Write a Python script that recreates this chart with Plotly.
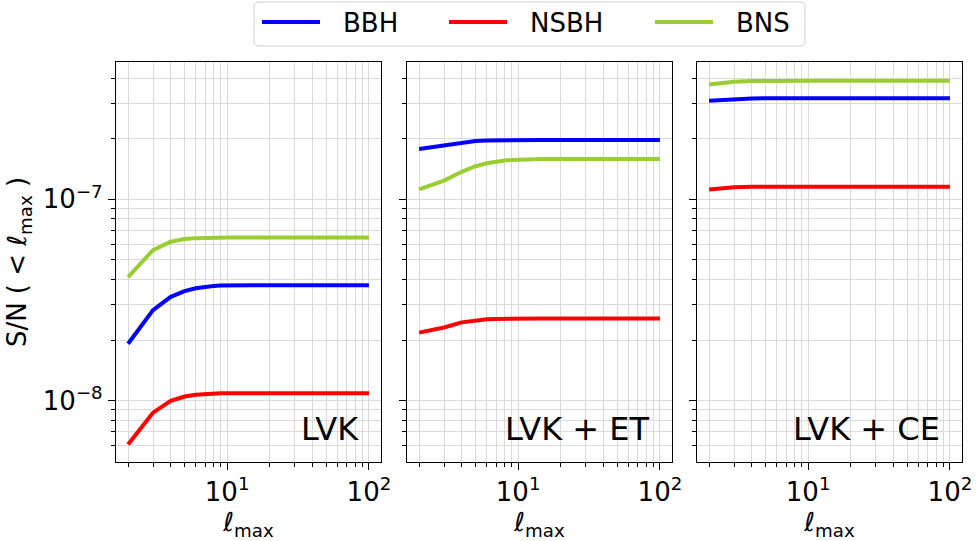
import plotly.graph_objects as go

# ---------------- data ----------------
ell = [2, 3, 4, 5, 6, 7, 8, 9, 10, 12, 15, 20, 30, 50, 100]

panels = ["LVK", "LVK + ET", "LVK + CE"]
series_names = ["BBH", "NSBH", "BNS"]
colors = {"BBH": "#0000ff", "NSBH": "#ff0000", "BNS": "#9acd32"}

lvk_bbh = [1.92e-8, 2.82e-8, 3.28e-8, 3.50e-8, 3.62e-8, 3.68e-8, 3.71e-8, 3.73e-8, 3.74e-8, 3.75e-8, 3.75e-8, 3.75e-8, 3.75e-8, 3.75e-8, 3.75e-8]
lvk_nsbh = [6.07e-9, 8.73e-9, 1.00e-8, 1.05e-8, 1.07e-8, 1.08e-8, 1.085e-8, 1.09e-8, 1.09e-8, 1.09e-8, 1.09e-8, 1.09e-8, 1.09e-8, 1.09e-8, 1.09e-8]
lvk_bns = [4.11e-8, 5.60e-8, 6.16e-8, 6.35e-8, 6.42e-8, 6.45e-8, 6.46e-8, 6.47e-8, 6.47e-8, 6.47e-8, 6.47e-8, 6.47e-8, 6.47e-8, 6.47e-8, 6.47e-8]

et_bbh = [1.78e-7, 1.85e-7, 1.92e-7, 1.95e-7, 1.96e-7, 1.965e-7, 1.97e-7, 1.97e-7, 1.97e-7, 1.97e-7, 1.97e-7, 1.97e-7, 1.97e-7, 1.97e-7, 1.97e-7]
et_nsbh = [2.18e-8, 2.31e-8, 2.45e-8, 2.51e-8, 2.54e-8, 2.55e-8, 2.555e-8, 2.56e-8, 2.56e-8, 2.56e-8, 2.56e-8, 2.56e-8, 2.56e-8, 2.56e-8, 2.56e-8]
et_bns = [1.12e-7, 1.24e-7, 1.37e-7, 1.46e-7, 1.51e-7, 1.54e-7, 1.56e-7, 1.57e-7, 1.575e-7, 1.58e-7, 1.585e-7, 1.585e-7, 1.585e-7, 1.585e-7, 1.585e-7]

ce_bbh = [3.09e-7, 3.15e-7, 3.17e-7, 3.18e-7, 3.18e-7, 3.18e-7, 3.18e-7, 3.18e-7, 3.18e-7, 3.18e-7, 3.18e-7, 3.18e-7, 3.18e-7, 3.18e-7, 3.18e-7]
ce_nsbh = [1.12e-7, 1.15e-7, 1.155e-7, 1.156e-7, 1.156e-7, 1.156e-7, 1.156e-7, 1.156e-7, 1.156e-7, 1.156e-7, 1.156e-7, 1.156e-7, 1.156e-7, 1.156e-7, 1.156e-7]
ce_bns = [3.72e-7, 3.84e-7, 3.87e-7, 3.88e-7, 3.88e-7, 3.88e-7, 3.88e-7, 3.88e-7, 3.88e-7, 3.88e-7, 3.88e-7, 3.88e-7, 3.88e-7, 3.88e-7, 3.88e-7]

data = {
    "LVK": {"BBH": lvk_bbh, "NSBH": lvk_nsbh, "BNS": lvk_bns},
    "LVK + ET": {"BBH": et_bbh, "NSBH": et_nsbh, "BNS": et_bns},
    "LVK + CE": {"BBH": ce_bbh, "NSBH": ce_nsbh, "BNS": ce_bns},
}

x_tickvals = [10, 100]
x_ticktext = ["10<sup>1</sup>", "10<sup>2</sup>"]
x_minor = [2, 3, 4, 5, 6, 7, 8, 9, 20, 30, 40, 50, 60, 70, 80, 90]
y_tickvals = [1e-8, 1e-7]
y_ticktext = ["10<sup>\u22128</sup>", "10<sup>\u22127</sup>"]
y_minor = [6e-9, 7e-9, 8e-9, 9e-9, 2e-8, 3e-8, 4e-8, 5e-8, 6e-8, 7e-8, 8e-8, 9e-8, 2e-7, 3e-7, 4e-7]

# ---------------- layout helpers ----------------
W, H = 976, 541
FONT = "DejaVu Sans"
GRID = "#dadada"


def px(x):
    return x / W


def py(y):
    return 1 - y / H


panel_px = [(116, 381), (407, 672), (697, 962)]
y_top, y_bot = 62, 462

fig = go.Figure()

for i, p in enumerate(panels):
    k = "" if i == 0 else str(i + 1)
    for s in series_names:
        fig.add_trace(go.Scatter(
            x=ell, y=data[p][s], mode="lines", name=s,
            line=dict(color=colors[s], width=4),
            xaxis="x" + k, yaxis="y" + k, showlegend=False,
        ))
    xa = dict(
        type="log", range=[0.216, 2.085],
        domain=[px(panel_px[i][0]), px(panel_px[i][1])],
        anchor="y" + k,
        showline=True, linecolor="black", linewidth=1.2, mirror=True,
        ticks="outside", ticklen=7, tickwidth=1.2, tickcolor="black",
        tickmode="array", tickvals=x_tickvals, ticktext=x_ticktext,
        tickfont=dict(family=FONT, size=26, color="black"),
        showgrid=True, gridcolor=GRID, gridwidth=1, zeroline=False,
        minor=dict(tickmode="array", tickvals=x_minor, ticks="outside", ticklen=4,
                   tickwidth=1, tickcolor="black", showgrid=True, gridcolor=GRID, gridwidth=1),
        title=dict(text="\u2113<sub>max</sub>", font=dict(family=FONT, size=26, color="black"),
                   standoff=4),
        automargin=False,
    )
    ya = dict(
        type="log", range=[-8.304, -6.318],
        domain=[py(y_bot), py(y_top)],
        anchor="x" + k,
        showline=True, linecolor="black", linewidth=1.2, mirror=True,
        ticks="outside", ticklen=7, tickwidth=1.2, tickcolor="black",
        tickmode="array", tickvals=y_tickvals, ticktext=y_ticktext,
        tickfont=dict(family=FONT, size=26, color="black"),
        showticklabels=(i == 0),
        showgrid=True, gridcolor=GRID, gridwidth=1, zeroline=False,
        minor=dict(tickmode="array", tickvals=y_minor, ticks="outside", ticklen=4,
                   tickwidth=1, tickcolor="black", showgrid=True, gridcolor=GRID, gridwidth=1),
        automargin=False,
    )
    if i == 0:
        ya["title"] = dict(text="S/N ( < \u2113<sub>max</sub> )",
                           font=dict(family=FONT, size=26, color="black"), standoff=8)
    fig.layout["xaxis" + k] = xa
    fig.layout["yaxis" + k] = ya
    fig.add_annotation(
        text=p, xref="x" + k + " domain", yref="y" + k + " domain",
        x=1 - 20 / 265, y=(y_bot - 429) / (y_bot - y_top),
        xanchor="right", yanchor="middle", showarrow=False,
        font=dict(family=FONT, size=32, color="black"),
    )

# ---------------- legend (drawn manually to match matplotlib style) ----------------
bx0, by0, bx1, by1, r = 254, 2, 805, 46, 5
path = (f"M {px(bx0 + r)},{py(by0)} L {px(bx1 - r)},{py(by0)} "
        f"Q {px(bx1)},{py(by0)} {px(bx1)},{py(by0 + r)} "
        f"L {px(bx1)},{py(by1 - r)} Q {px(bx1)},{py(by1)} {px(bx1 - r)},{py(by1)} "
        f"L {px(bx0 + r)},{py(by1)} Q {px(bx0)},{py(by1)} {px(bx0)},{py(by1 - r)} "
        f"L {px(bx0)},{py(by0 + r)} Q {px(bx0)},{py(by0)} {px(bx0 + r)},{py(by0)} Z")
fig.add_shape(type="path", xref="paper", yref="paper", path=path,
              line=dict(color="#d0d0d0", width=1), fillcolor="white", layer="above")
leg_items = [("BBH", 262, 320, 341), ("NSBH", 449, 507, 528), ("BNS", 655, 713, 734)]
for name, l0, l1, t0 in leg_items:
    fig.add_shape(type="line", xref="paper", yref="paper",
                  x0=px(l0), x1=px(l1), y0=py(22), y1=py(22),
                  line=dict(color=colors[name], width=4), layer="above")
    fig.add_annotation(text=name, xref="paper", yref="paper", x=px(t0), y=py(23),
                       xanchor="left", yanchor="middle", showarrow=False,
                       font=dict(family=FONT, size=26, color="black"))

fig.update_layout(
    width=W, height=H,
    margin=dict(l=0, r=0, t=0, b=0),
    paper_bgcolor="white", plot_bgcolor="white",
    font=dict(family=FONT, size=26, color="black"),
    showlegend=False,
)

fig.write_html("out.html")
